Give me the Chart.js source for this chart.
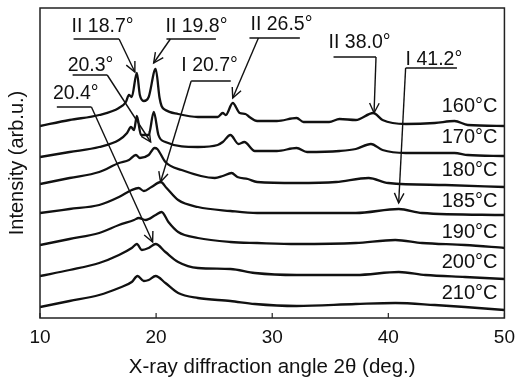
<!DOCTYPE html>
<html><head><meta charset="utf-8">
<script src="https://cdn.jsdelivr.net/npm/chart.js@4.4.1/dist/chart.umd.min.js"></script>
<style>html,body{margin:0;padding:0;background:#fff;}canvas{display:block;}</style>
</head><body>
<canvas id="c" width="523" height="380"></canvas>
<script>
// ---- data (2θ in degrees, intensity in arbitrary stacked units) ----
const temperatures = ['160°C','170°C','180°C','185°C','190°C','200°C','210°C'];

const angle160 = [10,12.55,15.1,16.8,17.4,17.66,17.9,18.34,18.6,18.94,19.36,19.96,20.3,20.47,20.8,21.9,23.6,25.3,25.74,26.0,26.6,27.2,27.7,28.04,28.7,30.4,32.1,32.7,34.9,35.8,37.2,38.7,39.5,41.5,44.0,45.7,46.85,50];
const int160   = [192,198,203,210,216,223,221,245,223,217,221,249,220,212,208,204,201,201,205,203,215,205,204,201,197,197,200,196,196,199,198,205,198,194,195,197,193,192];

const angle170 = [10,12.55,15.1,16.8,17.5,17.83,18.1,18.34,18.7,19.36,19.8,20.2,20.8,23.6,25.3,25.74,26.4,27.1,27.6,28.5,30.4,32.1,33.0,35.8,37.2,38.5,39.5,41.5,45.7,46.85,50];
const int170   = [161,166,171,178,185,191,188,202,183,183,206,183,176,171,173,176,183,174,176,167,167,170,166,167,169,174,168,165,165,163,162];

const angle180 = [10,12.55,15.1,16.8,17.66,18.26,18.6,19.36,19.87,20.1,20.8,22.2,25.06,25.74,26.5,27.0,27.9,28.7,32.1,35.5,38.3,40.0,44.9,50];
const int180   = [134,140,146,155,158,163,160,163,170,169,156,148,140,142,145,141,139,136,135,136,140,135,133,131];

const angle185 = [10,12.55,15.1,16.8,17.9,18.5,18.94,19.6,20.4,20.9,21.9,23.6,26.4,28.7,32.1,37.2,40.9,42.9,50];
const int185   = [105,109,113,121,128,130,127,131,136,130,118,111,107,105,105,105,109,105,103];

const angle190 = [10,12.55,15.1,16.8,18.1,18.5,19.1,19.96,20.47,21.06,21.9,23.6,26.4,28.7,32.1,37.2,40.6,42.9,46.6,50];
const int190   = [73,79,85,93,98,100,98,103,106,96,86,80,76,75,74,75,78,75,73,70];

const angle200 = [10,12.55,15.1,16.8,17.9,18.34,18.77,19.36,19.96,20.8,21.9,23.6,26.4,28.5,32.1,37.2,40.9,43.2,46.6,50];
const int200   = [42,48,55,63,70,74,68,70,74,66,56,50,49,45,43,43,46,43,41,39];

const angle210 = [10,12.55,15.1,16.8,17.9,18.4,18.94,19.36,19.96,20.8,21.9,23.6,26.4,28.5,32.1,37.2,40.6,44.0,46.6,50];
const int210   = [11,17,23,30,36,42,37,38,42,35,25,20,17,14,12,14,15,13,11,8];

const angles = [angle160, angle170, angle180, angle185, angle190, angle200, angle210];
const intensities = [int160, int170, int180, int185, int190, int200, int210];

const xTicks = [10,20,30,40,50];
const tempLabelAngle = 49.4;
const tempLabelIntensity = [212,180.5,148,117,86,56,25];

// peak annotations: label text, where the label sits, underline span, arrow from/to (data coordinates)
const peakLabels = ['II 18.7°','II 19.8°','20.3°','20.4°','I 20.7°','II 26.5°','II 38.0°','I 41.2°'];
const labelAt    = [[12.72,291],[20.81,291],[12.38,252],[11.11,224],[22.17,252],[28.13,293],[34.85,275],[41.49,258]];
const underline  = [[12.89,16.81,279],[20.89,25.15,279],[12.81,15.79,243],[11.45,14.43,211],[23.02,26.43,237],[28.04,32.38,280],[35.28,38.94,261],[41.49,45.91,250]];
const arrowFrom  = [[16.81,279],[21.23,279],[15.79,243],[14.43,211],[23.02,237],[28.81,280],[38.94,261],[41.49,250]];
const arrowTo    = [[18.17,246],[19.79,255],[19.53,176],[19.70,76],[20.38,136],[26.6,220],[38.77,205],[40.89,115]];

// ---- chart ----
const FONT = '"Liberation Sans", Arial, Helvetica, sans-serif';
const INK = '#111';

const datasets = temperatures.map((t, i) => ({
  label: t,
  data: angles[i].map((a, j) => ({x: a, y: intensities[i][j]})),
  borderColor: INK,
  borderWidth: 2.3,
  pointRadius: 0,
  cubicInterpolationMode: 'monotone',
  fill: false
}));

function arrow(ctx, x0, y0, x1, y1) {
  ctx.beginPath(); ctx.moveTo(x0, y0); ctx.lineTo(x1, y1); ctx.stroke();
  const ang = Math.atan2(y1 - y0, x1 - x0);
  const L = 11, A = 0.45;
  ctx.beginPath();
  ctx.moveTo(x1 - L * Math.cos(ang - A), y1 - L * Math.sin(ang - A));
  ctx.lineTo(x1, y1);
  ctx.lineTo(x1 - L * Math.cos(ang + A), y1 - L * Math.sin(ang + A));
  ctx.stroke();
}

const decor = {
  id: 'decor',
  afterDatasetsDraw(chart) {
    const {ctx, chartArea: ca, scales: {x, y}} = chart;
    ctx.save();
    // frame
    ctx.strokeStyle = '#222'; ctx.lineWidth = 1.5;
    ctx.strokeRect(ca.left, ca.top, ca.right - ca.left, ca.bottom - ca.top);
    // inward ticks
    ctx.lineWidth = 1.2;
    xTicks.forEach(v => {
      const px = x.getPixelForValue(v);
      ctx.beginPath(); ctx.moveTo(px, ca.bottom); ctx.lineTo(px, ca.bottom - 5); ctx.stroke();
    });
    // temperature labels
    ctx.fillStyle = INK; ctx.font = '20px ' + FONT;
    ctx.textAlign = 'right'; ctx.textBaseline = 'middle';
    temperatures.forEach((t, i) => {
      ctx.fillText(t, x.getPixelForValue(tempLabelAngle), y.getPixelForValue(tempLabelIntensity[i]));
    });
    // peak annotations
    ctx.font = '19.5px ' + FONT;
    ctx.textAlign = 'left';
    ctx.strokeStyle = INK; ctx.lineWidth = 1.4;
    peakLabels.forEach((t, i) => {
      ctx.fillText(t, x.getPixelForValue(labelAt[i][0]), y.getPixelForValue(labelAt[i][1]));
      const uy = y.getPixelForValue(underline[i][2]);
      ctx.beginPath();
      ctx.moveTo(x.getPixelForValue(underline[i][0]), uy);
      ctx.lineTo(x.getPixelForValue(underline[i][1]), uy);
      ctx.stroke();
      arrow(ctx, x.getPixelForValue(arrowFrom[i][0]), y.getPixelForValue(arrowFrom[i][1]),
                 x.getPixelForValue(arrowTo[i][0]), y.getPixelForValue(arrowTo[i][1]));
    });
    ctx.restore();
  }
};

new Chart(document.getElementById('c'), {
  type: 'line',
  data: {datasets},
  options: {
    responsive: false,
    devicePixelRatio: 1,
    animation: false,
    layout: {padding: {top: 8, right: 13, left: 0, bottom: 0}},
    plugins: {legend: {display: false}, tooltip: {enabled: false}},
    scales: {
      x: {
        type: 'linear', min: 10, max: 50,
        afterBuildTicks: s => { s.ticks = xTicks.map(v => ({value: v})); },
        afterFit: s => { s.height = 62; },
        grid: {display: false, drawTicks: false},
        border: {display: false},
        ticks: {color: INK, font: {family: FONT, size: 19}, padding: 8, maxRotation: 0},
        title: {display: true, text: 'X-ray diffraction angle 2θ (deg.)', color: INK,
                font: {family: FONT, size: 20.5}, padding: {top: 0, bottom: 0}}
      },
      y: {
        type: 'linear', min: 0, max: 310,
        afterFit: s => { s.width = 40; },
        grid: {display: false, drawTicks: false},
        border: {display: false},
        ticks: {display: false},
        title: {display: true, text: 'Intensity (arb.u.)', color: INK,
                font: {family: FONT, size: 20}, padding: {top: 5, bottom: 0}}
      }
    }
  },
  plugins: [decor]
});
</script>
</body></html>
